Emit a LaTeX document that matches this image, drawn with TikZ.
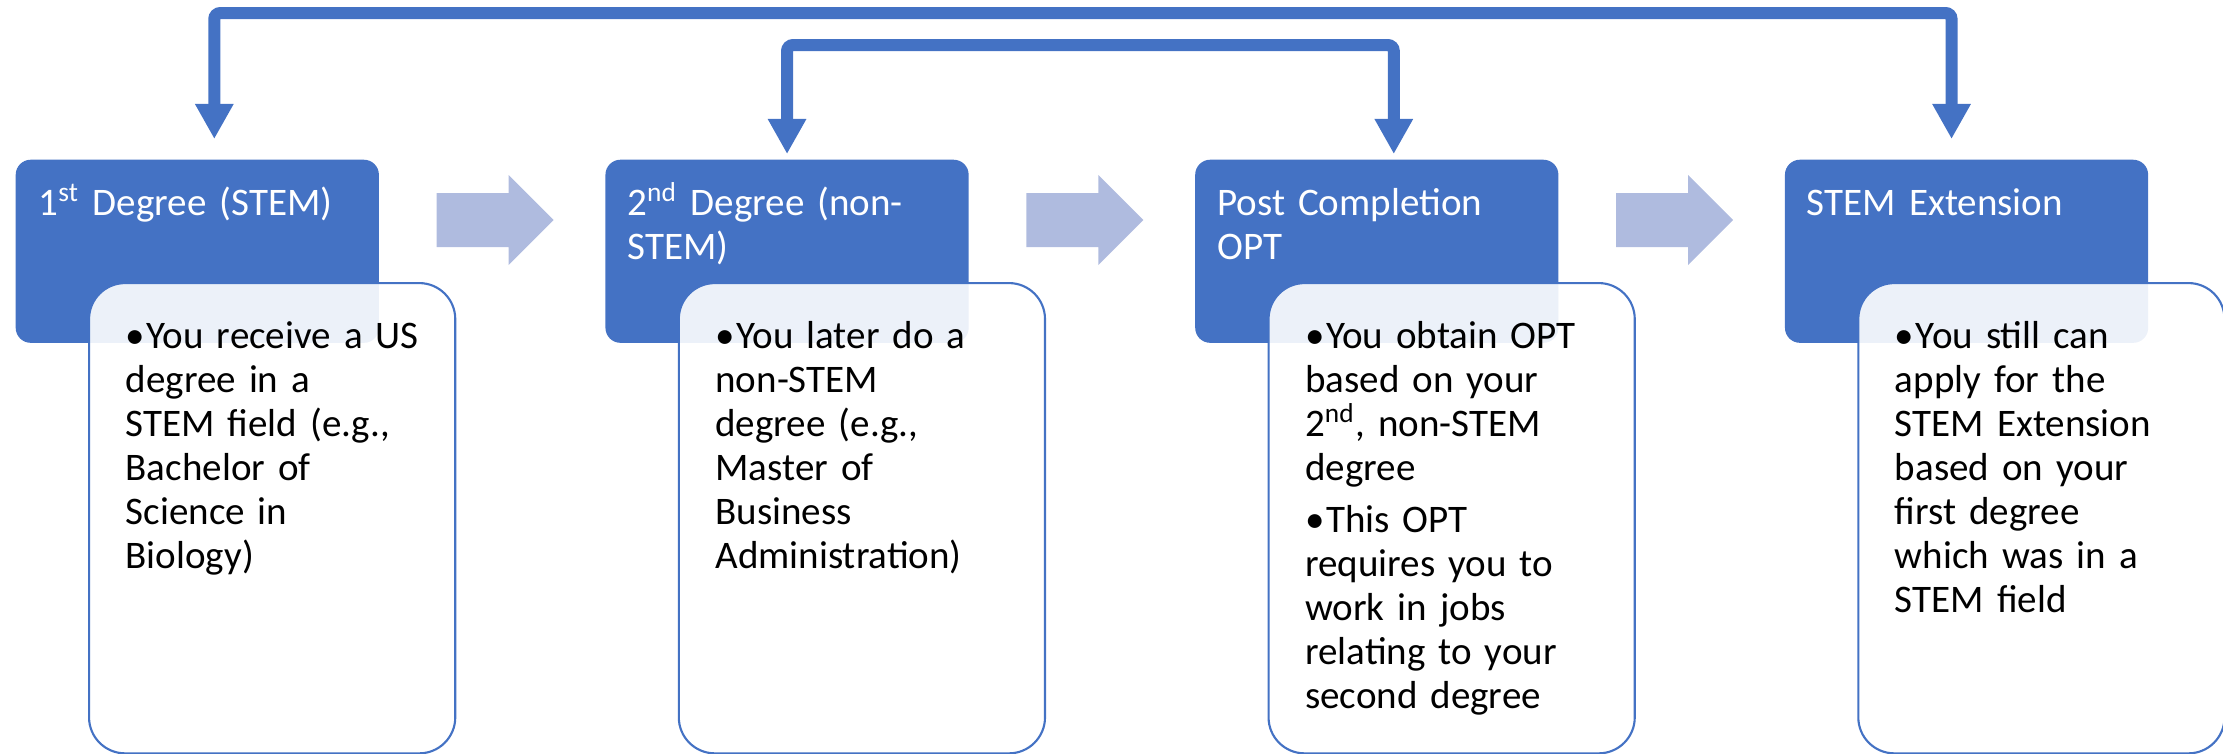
\documentclass[tikz,border=0pt]{standalone}
\usepackage{fontspec}
\setmainfont{Carlito}
\usetikzlibrary{calc}
\usetikzlibrary{positioning}
\usetikzlibrary{arrows.meta}
\definecolor{accent}{HTML}{4472C4}
\definecolor{paleblue}{HTML}{AFBBDF}
\newcommand*{\hdrw }{3.63cm}
\newcommand*{\hdrh }{1.83cm}
\newcommand*{\bodyw}{3.66cm}
\newcommand*{\bodyh}{4.70cm}
\newcommand*{\hgap }{2.25cm}
\newcommand*{\itm}[1]{\hangindent=.21cm\hangafter=1\noindent\makebox[.21cm][l]{\textbullet}\rule{0pt}{.3cm}#1\par}
\tikzset{
    hdr/.style={rectangle, rounded corners=.15cm, fill=accent, minimum width=\hdrw, minimum height=\hdrh, inner sep=0pt},
    card/.style={rectangle, rounded corners=.36cm, draw=accent, line width=.6pt, fill=white, fill opacity=.9, minimum width=\bodyw, minimum height=\bodyh, inner sep=0pt, anchor=north west},
    hdrtext/.style={text=white, text width=3.3cm, align=left, inner sep=0pt, anchor=north west},
    bodytext/.style={text=black, text width=3.1cm, align=left, inner sep=0pt, anchor=north west},
    backlink/.style={draw=accent, line width=.12cm, rounded corners=.06cm, {Triangle[width=.36cm,length=.35cm]}-{Triangle[width=.36cm,length=.35cm]}},
}

\begin{document}
\begin{tikzpicture}[x=0.01cm, y=-0.01cm, font=\fontsize{11.1pt}{12.5pt}\selectfont]
    \useasboundingbox (0,0) rectangle (2223,753);
    % headers
    \node [hdr, anchor=north west] (h1) at (15,159) {};
    \node [hdr, right=\hgap of h1] (h2) {};
    \node [hdr, right=\hgap of h2] (h3) {};
    \node [hdr, right=\hgap of h3] (h4) {};
    % cards
    \foreach \i in {1,...,4}
        \node [card] (b\i) at ($(h\i.north west)+(73,123)$) {};
    % chevrons
    \foreach \a in {h1,h2,h3}
        \fill [paleblue] ($(\a.north east)+(57,34)$) -- ++(72,0) -- ++(0,-18) -- ++(45,45) -- ++(-45,45) -- ++(0,-18) -- ++(-72,0) -- cycle;
    % titles
    \node [hdrtext] (t1) at ($(h1.north west)+(23,11)$) {\rule{0pt}{.45cm}1\textsuperscript{st} Degree (STEM)};
    \node [hdrtext] (t2) at ($(h2.north west)+(22,11)$) {\rule{0pt}{.45cm}2\textsuperscript{nd} Degree (non-\\STEM)};
    \node [hdrtext] (t3) at ($(h3.north west)+(22,11)$) {\rule{0pt}{.45cm}Post Completion\\OPT};
    \node [hdrtext] (t4) at ($(h4.north west)+(22,11)$) {\rule{0pt}{.45cm}STEM Extension};
    % bullets
    \node [bodytext] (s1) at ($(b1.north west)+(37,36)$) {\itm{You receive a US\\degree in a\\STEM field (e.g.,\\Bachelor of\\Science in\\Biology)}};
    \node [bodytext] (s2) at ($(b2.north west)+(37,36)$) {\itm{You later do a\\non-STEM\\degree (e.g.,\\Master of\\Business\\Administration)}};
    \node [bodytext] (s3) at ($(b3.north west)+(37,36)$) {\itm{You obtain OPT\\based on your\\2\textsuperscript{nd}, non-STEM\\degree}\vspace{.08cm}\itm{This OPT\\requires you to\\work in jobs\\relating to your\\second degree}};
    \node [bodytext] (s4) at ($(b4.north west)+(37,36)$) {\itm{You still can\\apply for the\\STEM Extension\\based on your\\first degree\\which was in a\\STEM field}};
    % links over the top
    \coordinate (o1) at ($(h1.north)+(17,-20)$);
    \coordinate (o4) at ($(h4.north)+(-15,-20)$);
    \coordinate (i2) at ($(h2.north)+(0,-5)$);
    \coordinate (i3) at ($(h3.north)+(17,-5)$);
    \draw [backlink] (o1) -- (o1 |- 0,13) -| (o4);
    \draw [backlink] (i2) -- (i2 |- 0,45) -| (i3);
\end{tikzpicture}
\end{document}
